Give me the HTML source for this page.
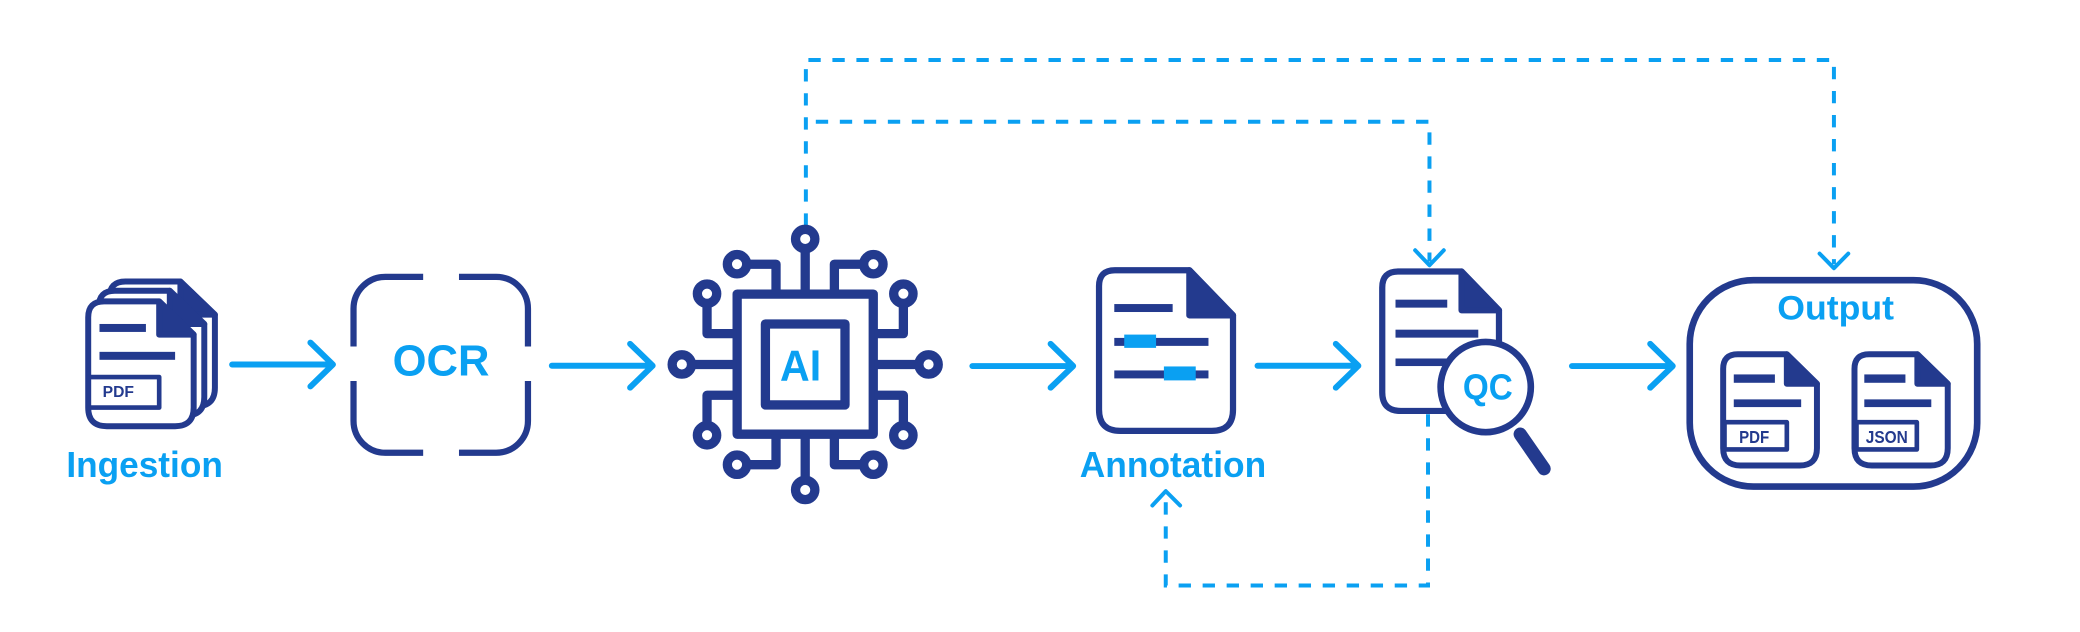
<!DOCTYPE html>
<html><head><meta charset="utf-8"><style>
html,body{margin:0;padding:0;background:#fff;}
svg{display:block;}
text{font-family:"Liberation Sans",sans-serif;font-weight:bold;}
</style></head><body>
<svg width="2080" height="632" viewBox="0 0 1568 476" preserveAspectRatio="none" xmlns="http://www.w3.org/2000/svg">
<rect width="1568" height="476" fill="#fff"/>
<!-- dashed connectors -->
<g fill="none" stroke="#0aa0f2" stroke-width="3" stroke-dasharray="9.3 8.8">
<path d="M607.5 170 V45.2 H1382.5 V199"/>
<path d="M615 91.7 H1077.6 V197"/>
<path d="M1076.5 312 V441 H878.8 V373"/>
</g>
<g fill="none" stroke="#0aa0f2" stroke-width="3" stroke-linecap="round" stroke-linejoin="round">
<path d="M1371.7 191 L1382.5 202 L1393.3 191"/>
<path d="M1066.8 188.5 L1077.6 199.8 L1088.4 188.5"/>
<path d="M868.7 380.7 L878.8 369.9 L889.6 380.7"/>
</g>
<!-- solid arrows -->
<g fill="none" stroke="#0aa0f2" stroke-width="4.5" stroke-linecap="round" stroke-linejoin="round">
<path d="M175 274.5 H250 M234 258 L251 274.5 L234 291"/>
<path d="M416 275.5 H491 M475 259 L492 275.5 L475 292"/>
<path d="M733 275.7 H808 M792 259 L809 275.7 L792 292"/>
<path d="M948 275.5 H1023 M1007 259 L1024 275.5 L1007 292"/>
<path d="M1185 275.7 H1260 M1244 259 L1261 275.7 L1244 292"/>
</g>
<!-- Ingestion docs -->
<g stroke="#233a8e" stroke-width="4.5" stroke-linejoin="round">
<path d="M82.5 224 Q82.5 212 94.5 212 L136 212 L162 237 L162 292 Q162 306 148 306 L96.5 306 Q82.5 306 82.5 292 Z" fill="#fff"/>
<path d="M136 212 L162 237 L136 237 Z" fill="#233a8e"/>
<path d="M74.5 231 Q74.5 219 86.5 219 L128 219 L154 244 L154 299 Q154 313 140 313 L88.5 313 Q74.5 313 74.5 299 Z" fill="#fff"/>
<path d="M128 219 L154 244 L128 244 Z" fill="#233a8e"/>
<path d="M66.5 239 Q66.5 227 78.5 227 L120 227 L146 252 L146 307 Q146 321 132 321 L80.5 321 Q66.5 321 66.5 307 Z" fill="#fff"/>
<path d="M120 227 L146 252 L120 252 Z" fill="#233a8e"/>
<rect x="67" y="284" width="53" height="23" fill="#fff" stroke-width="3.5"/>
</g>
<rect x="75" y="244" width="35" height="6" fill="#233a8e"/>
<rect x="75" y="265" width="57" height="6" fill="#233a8e"/>
<text x="77.4" y="299" font-size="11.5" fill="#233a8e" textLength="23.6" lengthAdjust="spacingAndGlyphs">PDF</text>
<text x="50" y="359.3" font-size="27" fill="#0aa0f2" textLength="118" lengthAdjust="spacingAndGlyphs">Ingestion</text>
<!-- OCR -->
<g fill="none" stroke="#233a8e" stroke-width="4.7">
<path d="M266.5 261 V232.5 A24 24 0 0 1 290.5 208.5 H319"/>
<path d="M346 208.5 H374 A24 24 0 0 1 398 232.5 V261"/>
<path d="M398 287 V317 A24 24 0 0 1 374 341 H346"/>
<path d="M319 341 H290.5 A24 24 0 0 1 266.5 317 V287"/>
</g>
<text x="296" y="282.7" font-size="33" fill="#0aa0f2" textLength="73" lengthAdjust="spacingAndGlyphs">OCR</text>
<!-- AI chip -->
<g fill="none" stroke="#233a8e" stroke-width="7" stroke-linejoin="round">
<rect x="555.7" y="221.5" width="102.6" height="105.5"/>
<rect x="577" y="244" width="60" height="61"/>
<path d="M607 221 V188"/>
<path d="M563 199 H585 V221"/>
<path d="M651 199 H629 V221"/>
<path d="M533 229 V251.3 H555"/>
<path d="M522 274.5 H555"/>
<path d="M533 320 V297.7 H555"/>
<path d="M681 229 V251.3 H659"/>
<path d="M692 274.5 H659"/>
<path d="M681 320 V297.7 H659"/>
<path d="M607 327 V361"/>
<path d="M563 350 H585 V327"/>
<path d="M651 350 H629 V327"/>
</g>
<g fill="#fff" stroke="#233a8e" stroke-width="7">
<circle cx="607" cy="180" r="7.3"/>
<circle cx="555.6" cy="199" r="7.3"/>
<circle cx="658.4" cy="199" r="7.3"/>
<circle cx="533" cy="221.2" r="7.3"/>
<circle cx="514" cy="274.5" r="7.3"/>
<circle cx="533" cy="327.8" r="7.3"/>
<circle cx="681" cy="221.2" r="7.3"/>
<circle cx="700" cy="274.5" r="7.3"/>
<circle cx="681" cy="327.8" r="7.3"/>
<circle cx="555.6" cy="350" r="7.3"/>
<circle cx="658.4" cy="350" r="7.3"/>
<circle cx="607" cy="369" r="7.3"/>
</g>
<text x="588" y="286.5" font-size="33" fill="#0aa0f2" textLength="31" lengthAdjust="spacingAndGlyphs">AI</text>
<!-- Annotation -->
<g stroke="#233a8e" stroke-width="4.7" stroke-linejoin="round">
<path d="M828.5 215.5 Q828.5 203.5 840.5 203.5 L896.6 203.5 L929.5 237.5 L929.5 308.5 Q929.5 324.5 913.5 324.5 L844.5 324.5 Q828.5 324.5 828.5 308.5 Z" fill="#fff"/>
<path d="M896.6 203.5 L929.5 237.5 L896.6 237.5 Z" fill="#233a8e"/>
</g>
<rect x="840" y="229" width="44" height="6" fill="#233a8e"/>
<rect x="840" y="254.5" width="71" height="6" fill="#233a8e"/>
<rect x="847.5" y="252" width="24" height="10" fill="#0aa0f2"/>
<rect x="840" y="279" width="71" height="6" fill="#233a8e"/>
<rect x="877.4" y="276" width="24" height="10.5" fill="#0aa0f2"/>
<text x="814" y="359.4" font-size="27" fill="#0aa0f2" textLength="140.5" lengthAdjust="spacingAndGlyphs">Annotation</text>
<!-- QC -->
<g stroke="#233a8e" stroke-width="4.7" stroke-linejoin="round">
<path d="M1042 216.5 Q1042 204.5 1054 204.5 L1101.8 204.5 L1130 233.7 L1130 295.5 Q1130 309.5 1116 309.5 L1056 309.5 Q1042 309.5 1042 295.5 Z" fill="#fff"/>
<path d="M1101.8 204.5 L1130 233.7 L1101.8 233.7 Z" fill="#233a8e"/>
</g>
<rect x="1052" y="225.7" width="39" height="6" fill="#233a8e"/>
<rect x="1052" y="248.3" width="62.4" height="6" fill="#233a8e"/>
<rect x="1052" y="270" width="40" height="5.7" fill="#233a8e"/>
<line x1="1146" y1="327" x2="1164" y2="353" stroke="#233a8e" stroke-width="10" stroke-linecap="round"/>
<circle cx="1120" cy="291.5" r="34" fill="#fff" stroke="#233a8e" stroke-width="5"/>
<text x="1102.8" y="300.8" font-size="27" fill="#0aa0f2" textLength="37.6" lengthAdjust="spacingAndGlyphs">QC</text>
<!-- Output -->
<rect x="1273.8" y="211" width="216.7" height="155.5" rx="48" fill="#fff" stroke="#233a8e" stroke-width="5"/>
<text x="1339.8" y="240.5" font-size="26" fill="#0aa0f2" textLength="88" lengthAdjust="spacingAndGlyphs">Output</text>
<g stroke="#233a8e" stroke-width="4.5" stroke-linejoin="round">
<path d="M1299 277.8 Q1299 266.8 1310 266.8 L1347 266.8 L1369.7 289 L1369.7 337.6 Q1369.7 350.6 1356.7 350.6 L1312 350.6 Q1299 350.6 1299 337.6 Z" fill="#fff"/>
<path d="M1347 266.8 L1369.7 289 L1347 289 Z" fill="#233a8e"/>
<path d="M1398 277.8 Q1398 266.8 1409 266.8 L1445.4 266.8 L1468.3 289 L1468.3 337.6 Q1468.3 350.6 1455.3 350.6 L1411 350.6 Q1398 350.6 1398 337.6 Z" fill="#fff"/>
<path d="M1445.4 266.8 L1468.3 289 L1445.4 289 Z" fill="#233a8e"/>
<rect x="1300" y="318" width="47" height="20.5" fill="#fff" stroke-width="3.5"/>
<rect x="1399.5" y="318" width="45.5" height="20.5" fill="#fff" stroke-width="3.5"/>
</g>
<rect x="1307" y="282" width="31" height="6.3" fill="#233a8e"/>
<rect x="1307" y="300.8" width="50.8" height="5.8" fill="#233a8e"/>
<rect x="1405.4" y="282" width="31" height="6.3" fill="#233a8e"/>
<rect x="1405.4" y="300.8" width="50.5" height="5.8" fill="#233a8e"/>
<text x="1311" y="333.7" font-size="13" fill="#233a8e" textLength="22.7" lengthAdjust="spacingAndGlyphs">PDF</text>
<text x="1406.5" y="333.7" font-size="13" fill="#233a8e" textLength="31.7" lengthAdjust="spacingAndGlyphs">JSON</text>
</svg>
</body></html>
